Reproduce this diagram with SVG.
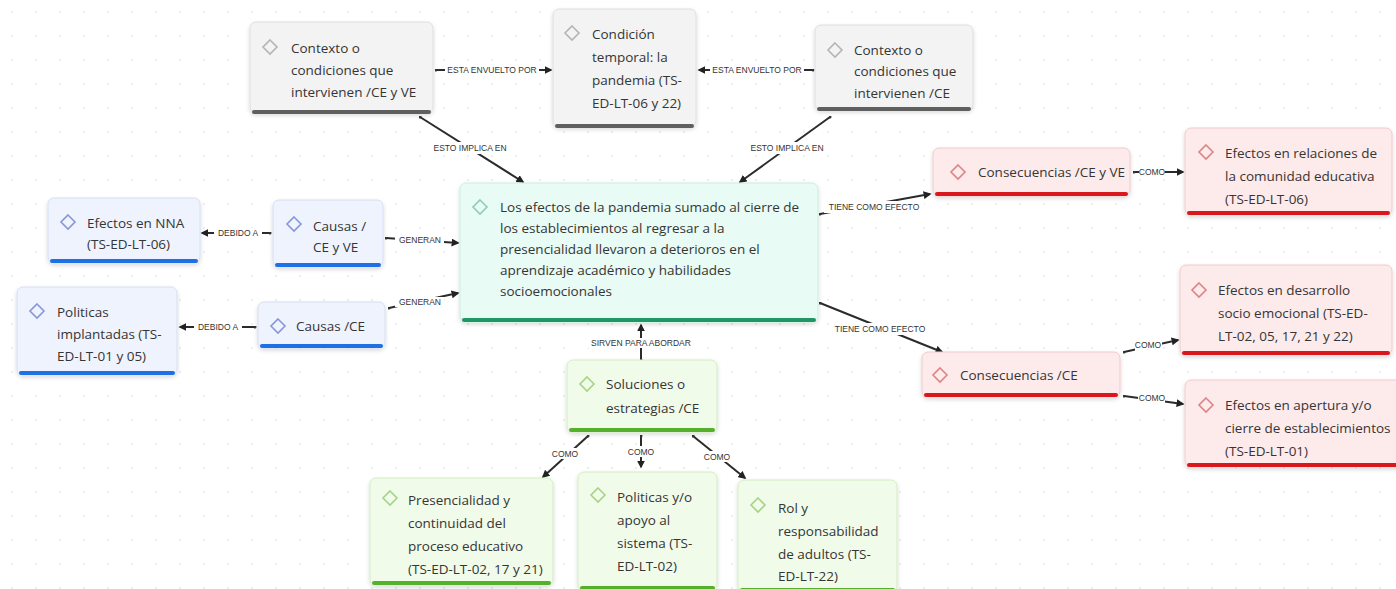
<svg xmlns="http://www.w3.org/2000/svg" width="1396" height="589" viewBox="0 0 1396 589">
<style>
.nt{font-family:"Open Sans","Liberation Sans",sans-serif;font-size:13.5px;fill:#353535}
.lb{font-family:"Liberation Sans",Arial,sans-serif;font-size:8.5px;fill:#333;text-anchor:middle;dominant-baseline:central}
.lbg{fill:#ffffff}
.ln{stroke:#2b2b2b;stroke-width:2;fill:none;marker-end:url(#ah);marker-start:url(#dt)}
.gray .bx{fill:#f3f3f3;stroke:#dedede}
.gray .bar{fill:#5f5f5f}
.gray .dm{stroke:#b5b5b5}
.blue .bx{fill:#eff3fd;stroke:#d5def3}
.blue .bar{fill:#1f6fe5}
.blue .dm{stroke:#8797d9}
.mint .bx{fill:#e8fbf4;stroke:#c9efdf}
.mint .bar{fill:#1f9663}
.mint .dm{stroke:#8fcfb1}
.lgreen .bx{fill:#f1fbea;stroke:#d3edc2}
.lgreen .bar{fill:#55b02c}
.lgreen .dm{stroke:#a6d486}
.red .bx{fill:#fdeaea;stroke:#f1caca}
.red .bar{fill:#d8181c}
.red .dm{stroke:#dc8585}
.bx{stroke-width:1;filter:url(#sh)}
.dm{fill:none;stroke-width:1.6}
</style>
<defs>
<filter id="sh" x="-10%" y="-10%" width="120%" height="130%">
<feDropShadow dx="0" dy="2" stdDeviation="2" flood-color="#000" flood-opacity="0.15"/>
</filter>
<marker id="ah" viewBox="0 0 10 10" refX="8" refY="5" markerWidth="8" markerHeight="8" markerUnits="userSpaceOnUse" orient="auto">
<path d="M0,0 L10,5 L0,10 Z" fill="#222"/>
</marker>
<marker id="dt" viewBox="0 0 4 4" refX="2" refY="2" markerWidth="3" markerHeight="3" markerUnits="userSpaceOnUse">
<circle cx="2" cy="2" r="2" fill="#333"/>
</marker>
<pattern id="grid" width="24" height="24" patternUnits="userSpaceOnUse">
<circle cx="12" cy="12" r="1" fill="#e8e8e8"/>
</pattern>
</defs>
<rect x="0" y="0" width="1396" height="589" fill="#ffffff"/>
<rect x="0" y="0" width="1396" height="589" fill="url(#grid)"/>

<g id="connectors">
<line class="ln" x1="436" y1="70" x2="551" y2="70"/>
<rect class="lbg" x="445" y="65" width="94" height="10"/><text class="lb" x="492" y="70">ESTA ENVUELTO POR</text>
<line class="ln" x1="813" y1="70" x2="699" y2="70"/>
<rect class="lbg" x="710" y="65" width="94" height="10"/><text class="lb" x="757" y="70">ESTA ENVUELTO POR</text>
<line class="ln" x1="420" y1="117" x2="523" y2="182"/>
<rect class="lbg" x="430" y="142" width="80" height="12"/><text class="lb" x="470" y="148">ESTO IMPLICA EN</text>
<line class="ln" x1="830" y1="117" x2="740" y2="182"/>
<rect class="lbg" x="747" y="142" width="80" height="12"/><text class="lb" x="787" y="148">ESTO IMPLICA EN</text>
<line class="ln" x1="386" y1="238" x2="458" y2="243"/>
<rect class="lbg" x="395" y="235" width="49" height="10"/><text class="lb" x="420" y="240">GENERAN</text>
<line class="ln" x1="389" y1="308" x2="458" y2="293"/>
<rect class="lbg" x="395" y="297" width="49" height="10"/><text class="lb" x="420" y="302">GENERAN</text>
<line class="ln" x1="270" y1="233" x2="202" y2="233"/>
<rect class="lbg" x="214" y="228" width="48" height="10"/><text class="lb" x="238" y="233">DEBIDO A</text>
<line class="ln" x1="255" y1="327" x2="180" y2="327"/>
<rect class="lbg" x="194" y="322" width="48" height="10"/><text class="lb" x="218" y="327">DEBIDO A</text>
<line class="ln" x1="820" y1="214" x2="930" y2="194"/>
<rect class="lbg" x="824" y="201" width="100" height="12"/><text class="lb" x="874" y="207">TIENE COMO EFECTO</text>
<line class="ln" x1="820" y1="303" x2="942" y2="352"/>
<rect class="lbg" x="829" y="323" width="102" height="12"/><text class="lb" x="880" y="329">TIENE COMO EFECTO</text>
<line class="ln" x1="1134" y1="172" x2="1183" y2="172"/>
<rect class="lbg" x="1139" y="167" width="26" height="10"/><text class="lb" x="1152" y="172">COMO</text>
<line class="ln" x1="1124" y1="352" x2="1178" y2="340"/>
<rect class="lbg" x="1135" y="339" width="27" height="12"/><text class="lb" x="1148" y="345">COMO</text>
<line class="ln" x1="1124" y1="396" x2="1183" y2="404"/>
<rect class="lbg" x="1138" y="393" width="27" height="11"/><text class="lb" x="1152" y="398">COMO</text>
<line class="ln" x1="641" y1="360" x2="641" y2="325"/>
<rect class="lbg" x="584" y="338" width="114" height="10"/><text class="lb" x="641" y="343">SIRVEN PARA ABORDAR</text>
<line class="ln" x1="588" y1="436" x2="543" y2="477"/>
<rect class="lbg" x="551" y="448" width="28" height="11"/><text class="lb" x="565" y="454">COMO</text>
<line class="ln" x1="641" y1="436" x2="641" y2="467"/>
<rect class="lbg" x="627" y="446" width="28" height="11"/><text class="lb" x="641" y="452">COMO</text>
<line class="ln" x1="693" y1="436" x2="745" y2="478"/>
<rect class="lbg" x="703" y="451" width="28" height="11"/><text class="lb" x="717" y="457">COMO</text>
</g>

<g id="n-contexto-ceve" class="gray">
<rect class="bx" x="250" y="22" width="183" height="91" rx="6"/>
<rect class="bar" x="252" y="110" width="179" height="4" rx="2"/>
<path class="dm" d="M270,40 L277,47 L270,54 L263,47 Z"/>
<text class="nt"><tspan x="291" y="53">Contexto o</tspan><tspan x="291" y="75">condiciones que</tspan><tspan x="291" y="97">intervienen /CE y VE</tspan></text>
</g>
<g id="n-condicion" class="gray">
<rect class="bx" x="553" y="9" width="143" height="118" rx="6"/>
<rect class="bar" x="555" y="124" width="139" height="4" rx="2"/>
<path class="dm" d="M572,26 L579,33 L572,40 L565,33 Z"/>
<text class="nt"><tspan x="592" y="39">Condición</tspan><tspan x="592" y="62">temporal: la</tspan><tspan x="592" y="85">pandemia (TS-</tspan><tspan x="592" y="108">ED-LT-06 y 22)</tspan></text>
</g>
<g id="n-contexto-ce" class="gray">
<rect class="bx" x="815" y="25" width="158" height="85" rx="6"/>
<rect class="bar" x="817" y="107" width="154" height="4" rx="2"/>
<path class="dm" d="M835,43 L842,50 L835,57 L828,50 Z"/>
<text class="nt"><tspan x="854" y="55">Contexto o</tspan><tspan x="854" y="76">condiciones que</tspan><tspan x="854" y="98">intervienen /CE</tspan></text>
</g>
<g id="n-central" class="mint">
<rect class="bx" x="460" y="183" width="358" height="139" rx="6"/>
<rect class="bar" x="462" y="318" width="354" height="4" rx="2"/>
<path class="dm" d="M480,200 L487,207 L480,214 L473,207 Z"/>
<text class="nt"><tspan x="500" y="212">Los efectos de la pandemia sumado al cierre de</tspan><tspan x="500" y="233">los establecimientos al regresar a la</tspan><tspan x="500" y="254">presencialidad llevaron a deterioros en el</tspan><tspan x="500" y="275">aprendizaje académico y habilidades</tspan><tspan x="500" y="296">socioemocionales</tspan></text>
</g>
<g id="n-efectos-nna" class="blue">
<rect class="bx" x="48" y="198" width="152" height="65" rx="6"/>
<rect class="bar" x="50" y="259" width="148" height="4" rx="2"/>
<path class="dm" d="M68,215 L75,222 L68,229 L61,222 Z"/>
<text class="nt"><tspan x="87" y="228">Efectos en NNA</tspan><tspan x="87" y="249">(TS-ED-LT-06)</tspan></text>
</g>
<g id="n-causas-ceve" class="blue">
<rect class="bx" x="273" y="200" width="110" height="67" rx="6"/>
<rect class="bar" x="275" y="263" width="106" height="4" rx="2"/>
<path class="dm" d="M294,217 L301,224 L294,231 L287,224 Z"/>
<text class="nt"><tspan x="313" y="231">Causas /</tspan><tspan x="313" y="252">CE y VE</tspan></text>
</g>
<g id="n-politicas-impl" class="blue">
<rect class="bx" x="17" y="287" width="160" height="88" rx="6"/>
<rect class="bar" x="19" y="371" width="156" height="4" rx="2"/>
<path class="dm" d="M37,304 L44,311 L37,318 L30,311 Z"/>
<text class="nt"><tspan x="57" y="317">Politicas</tspan><tspan x="57" y="339">implantadas (TS-</tspan><tspan x="57" y="361">ED-LT-01 y 05)</tspan></text>
</g>
<g id="n-causas-ce" class="blue">
<rect class="bx" x="258" y="302" width="127" height="46" rx="6"/>
<rect class="bar" x="260" y="344" width="123" height="4" rx="2"/>
<path class="dm" d="M278,319 L285,326 L278,333 L271,326 Z"/>
<text class="nt"><tspan x="296" y="331">Causas /CE</tspan></text>
</g>
<g id="n-consec-ceve" class="red">
<rect class="bx" x="933" y="148" width="197" height="48" rx="6"/>
<rect class="bar" x="935" y="192" width="193" height="4" rx="2"/>
<path class="dm" d="M958,165 L965,172 L958,179 L951,172 Z"/>
<text class="nt"><tspan x="978" y="177">Consecuencias /CE y VE</tspan></text>
</g>
<g id="n-efectos-relaciones" class="red">
<rect class="bx" x="1185" y="128" width="207" height="87" rx="6"/>
<rect class="bar" x="1187" y="211" width="203" height="4" rx="2"/>
<path class="dm" d="M1206,145 L1213,152 L1206,159 L1199,152 Z"/>
<text class="nt"><tspan x="1225" y="158">Efectos en relaciones de</tspan><tspan x="1225" y="181">la comunidad educativa</tspan><tspan x="1225" y="204">(TS-ED-LT-06)</tspan></text>
</g>
<g id="n-efectos-desarrollo" class="red">
<rect class="bx" x="1180" y="265" width="212" height="90" rx="6"/>
<rect class="bar" x="1182" y="351" width="208" height="4" rx="2"/>
<path class="dm" d="M1199,283 L1206,290 L1199,297 L1192,290 Z"/>
<text class="nt"><tspan x="1218" y="295">Efectos en desarrollo</tspan><tspan x="1218" y="318">socio emocional (TS-ED-</tspan><tspan x="1218" y="341">LT-02, 05, 17, 21 y 22)</tspan></text>
</g>
<g id="n-consec-ce" class="red">
<rect class="bx" x="922" y="352" width="198" height="45" rx="6"/>
<rect class="bar" x="924" y="393" width="194" height="4" rx="2"/>
<path class="dm" d="M940,368 L947,375 L940,382 L933,375 Z"/>
<text class="nt"><tspan x="960" y="380">Consecuencias /CE</tspan></text>
</g>
<g id="n-efectos-apertura" class="red">
<rect class="bx" x="1185" y="380" width="220" height="87" rx="6"/>
<rect class="bar" x="1187" y="463" width="216" height="4" rx="2"/>
<path class="dm" d="M1206,398 L1213,405 L1206,412 L1199,405 Z"/>
<text class="nt"><tspan x="1225" y="410">Efectos en apertura y/o</tspan><tspan x="1225" y="433">cierre de establecimientos</tspan><tspan x="1225" y="456">(TS-ED-LT-01)</tspan></text>
</g>
<g id="n-soluciones" class="lgreen">
<rect class="bx" x="567" y="360" width="150" height="72" rx="6"/>
<rect class="bar" x="569" y="428" width="146" height="4" rx="2"/>
<path class="dm" d="M587,377 L594,384 L587,391 L580,384 Z"/>
<text class="nt"><tspan x="606" y="389">Soluciones o</tspan><tspan x="606" y="413">estrategias /CE</tspan></text>
</g>
<g id="n-presencialidad" class="lgreen">
<rect class="bx" x="370" y="478" width="183" height="107" rx="6"/>
<rect class="bar" x="372" y="581" width="179" height="4" rx="2"/>
<path class="dm" d="M390,491 L397,498 L390,505 L383,498 Z"/>
<text class="nt"><tspan x="408" y="505">Presencialidad y</tspan><tspan x="408" y="528">continuidad del</tspan><tspan x="408" y="551">proceso educativo</tspan><tspan x="408" y="574">(TS-ED-LT-02, 17 y 21)</tspan></text>
</g>
<g id="n-politicas-apoyo" class="lgreen">
<rect class="bx" x="578" y="472" width="139" height="118" rx="6"/>
<rect class="bar" x="580" y="586" width="135" height="4" rx="2"/>
<path class="dm" d="M598,488 L605,495 L598,502 L591,495 Z"/>
<text class="nt"><tspan x="617" y="502">Politicas y/o</tspan><tspan x="617" y="525">apoyo al</tspan><tspan x="617" y="548">sistema (TS-</tspan><tspan x="617" y="571">ED-LT-02)</tspan></text>
</g>
<g id="n-rol" class="lgreen">
<rect class="bx" x="738" y="480" width="159" height="112" rx="6"/>
<rect class="bar" x="740" y="588" width="155" height="4" rx="2"/>
<path class="dm" d="M758,498 L765,505 L758,512 L751,505 Z"/>
<text class="nt"><tspan x="778" y="513">Rol y</tspan><tspan x="778" y="536">responsabilidad</tspan><tspan x="778" y="559">de adultos (TS-</tspan><tspan x="778" y="581">ED-LT-22)</tspan></text>
</g>
</svg>
